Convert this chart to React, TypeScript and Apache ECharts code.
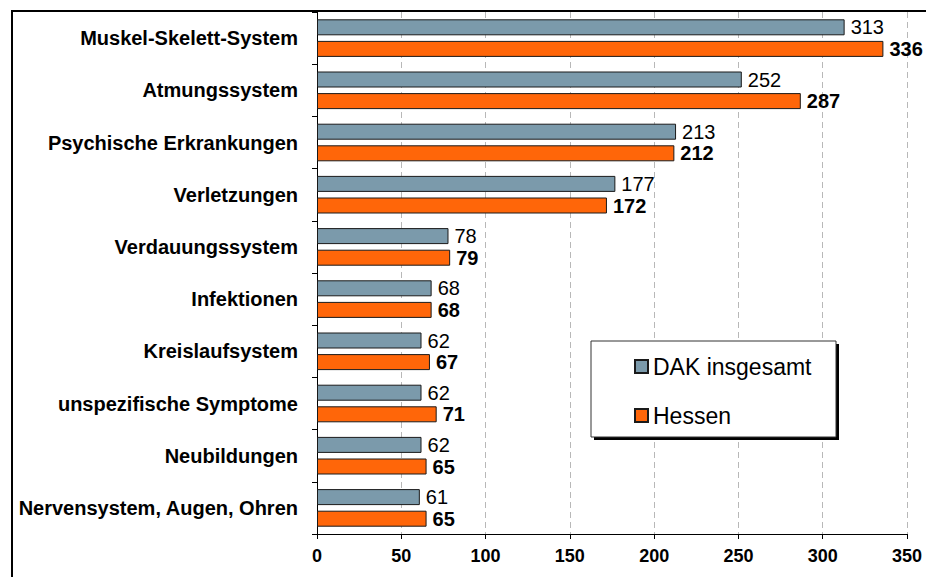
import React, { useEffect, useRef } from "react";
import * as echarts from "echarts";

const categories = [
  "Muskel-Skelett-System",
  "Atmungssystem",
  "Psychische Erkrankungen",
  "Verletzungen",
  "Verdauungssystem",
  "Infektionen",
  "Kreislaufsystem",
  "unspezifische Symptome",
  "Neubildungen",
  "Nervensystem, Augen, Ohren",
];
const dakValues = [313, 252, 213, 177, 78, 68, 62, 62, 62, 61];
const hessenValues = [336, 287, 212, 172, 79, 68, 67, 71, 65, 65];
const seriesNames = ["DAK insgesamt", "Hessen"];
const xMin = 0;
const xMax = 350;
const xInterval = 50;

const FONT = "'Liberation Sans', Arial, Helvetica, sans-serif";

export default function App() {
  const ref = useRef<HTMLDivElement>(null);
  useEffect(() => {
    if (!ref.current) return;
    const chart = echarts.init(ref.current, undefined, { renderer: "svg" });
    chart.setOption({
      animation: false,
      backgroundColor: "#ffffff",
      textStyle: { fontFamily: FONT },
      grid: { left: 317, right: 19, top: 12, bottom: 43, containLabel: false },
      xAxis: {
        type: "value",
        min: xMin,
        max: xMax,
        interval: xInterval,
        axisLine: { show: true, lineStyle: { color: "#000", width: 1 } },
        axisTick: { show: true, length: 5, lineStyle: { color: "#000" } },
        axisLabel: {
          color: "#000",
          fontWeight: "bold",
          fontSize: 18,
          fontFamily: FONT,
          margin: 13,
        },
        splitLine: {
          show: true,
          lineStyle: { color: "#b8b8b8", type: [6, 4], width: 1 },
        },
      },
      yAxis: {
        type: "category",
        data: categories,
        inverse: true,
        axisLine: { show: true, lineStyle: { color: "#000", width: 1 } },
        axisTick: { show: true, length: 5, lineStyle: { color: "#000" } },
        axisLabel: {
          color: "#000",
          fontWeight: "bold",
          fontSize: 20,
          fontFamily: FONT,
          margin: 19,
        },
        splitLine: { show: false },
      },
      legend: {
        orient: "vertical",
        left: 634,
        top: 355,
        padding: 0,
        itemWidth: 13,
        itemHeight: 13,
        itemGap: 26,
        icon: "rect",
        textStyle: { color: "#000", fontSize: 23, fontFamily: FONT, lineHeight: 22 },
        data: seriesNames,
        z: 10,
      },
      graphic: [
        // outer frame
        {
          type: "line",
          shape: { x1: 11, y1: 11, x2: 926, y2: 11 },
          style: { stroke: "#000", lineWidth: 2 },
        },
        {
          type: "line",
          shape: { x1: 12, y1: 10, x2: 12, y2: 577 },
          style: { stroke: "#000", lineWidth: 2 },
        },
        // legend shadow
        {
          type: "rect",
          shape: { x: 594, y: 344, width: 245, height: 96 },
          style: { fill: "#000" },
          z: 5,
        },
        // legend box
        {
          type: "rect",
          shape: { x: 591, y: 341, width: 245, height: 96 },
          style: { fill: "#fff", stroke: "#333", lineWidth: 1 },
          z: 6,
        },
      ],
      series: [
        {
          name: seriesNames[0],
          type: "bar",
          data: dakValues,
          barWidth: 16,
          barGap: "35%",
          itemStyle: { color: "#7b9aab", borderColor: "#1a1a1a", borderWidth: 1 },
          label: {
            show: true,
            position: "right",
            distance: 6,
            color: "#000",
            fontSize: 20,
            fontFamily: FONT,
          },
        },
        {
          name: seriesNames[1],
          type: "bar",
          data: hessenValues,
          barWidth: 16,
          itemStyle: { color: "#ff6609", borderColor: "#1a1a1a", borderWidth: 1 },
          label: {
            show: true,
            position: "right",
            distance: 6,
            color: "#000",
            fontSize: 20,
            fontWeight: "bold",
            fontFamily: FONT,
          },
        },
      ],
    });
    return () => chart.dispose();
  }, []);
  return (
    <div
      ref={ref}
      style={{ position: "fixed", left: 0, top: 0, width: 926, height: 577 }}
    />
  );
}
